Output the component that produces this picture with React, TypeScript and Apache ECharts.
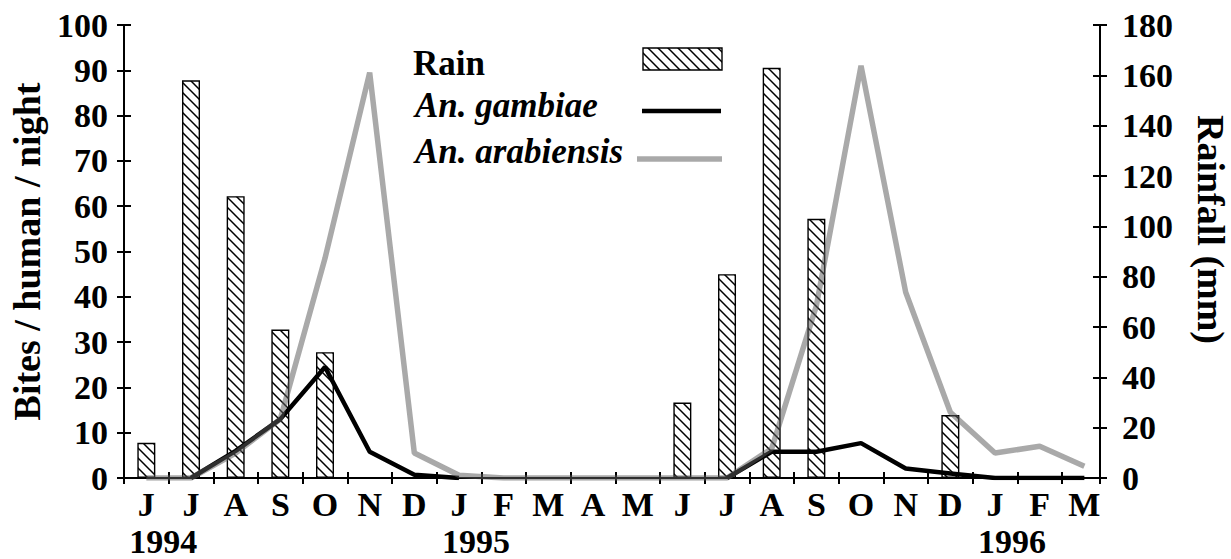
import React, { useEffect, useRef } from 'react';
import * as echarts from 'echarts';

// ---- data ----
const months = ['J', 'J', 'A', 'S', 'O', 'N', 'D', 'J', 'F', 'M', 'A', 'M', 'J', 'J', 'A', 'S', 'O', 'N', 'D', 'J', 'F', 'M'];
const yearLabels = ['1994', '1995', '1996'];
const yearMonthIndex = [0, 7, 19];
// Rainfall (mm), one value per month (null = no bar)
const rainfall = [14, 158, 112, 59, 50, null, null, null, null, null, null, null, 30, 81, 163, 103, null, null, 25, null, null, null];
// Bites / human / night
const gambiae = [null, 0, 6, 13, 24.5, 5.8, 0.7, 0, null, null, null, null, null, 0, 5.8, 5.8, 7.7, 2.1, 1, 0, 0, 0];
const arabiensis = [0, 0, 5.5, 13, 48.5, 89.5, 5.5, 0.6, 0, 0, 0, 0, 0, 0, 6.5, 38, 91, 41, 14.5, 5.5, 7, 2.6];
const legendNames = ['Rain', 'An. gambiae', 'An. arabiensis'];
const leftAxisName = 'Bites / human / night';
const rightAxisName = 'Rainfall (mm)';
const leftMax = 100;
const leftStep = 10;
const rightMax = 180;
const rightStep = 20;
const monthSpan = 21.85; // axis ends part-way through the last month

const FONT = '"Liberation Serif", "Times New Roman", serif';
const GREY = 'rgba(90,90,90,0.52)';

function makeHatch(): HTMLCanvasElement {
  const s = 10;
  const c = document.createElement('canvas');
  c.width = s;
  c.height = s;
  const ctx = c.getContext('2d')!;
  ctx.fillStyle = '#fff';
  ctx.fillRect(0, 0, s, s);
  ctx.strokeStyle = '#000';
  ctx.lineWidth = 1.5;
  ctx.beginPath();
  ctx.moveTo(-1, -1);
  ctx.lineTo(s + 1, s + 1);
  ctx.moveTo(s - 2, -2);
  ctx.lineTo(s + 2, 2);
  ctx.moveTo(-2, s - 2);
  ctx.lineTo(2, s + 2);
  ctx.stroke();
  return c;
}

export default function App() {
  const ref = useRef<HTMLDivElement>(null);

  useEffect(() => {
    if (!ref.current) return;
    const chart = echarts.init(ref.current, undefined, { renderer: 'svg' });
    const hatch = { image: makeHatch(), repeat: 'repeat' };

    const rainData = rainfall
      .map((v, i) => (v == null ? null : [i + 0.5, v]))
      .filter((d) => d !== null);
    const gamData = gambiae.map((v, i) => [i + 0.5, v == null ? '-' : v]);
    const araData = arabiensis.map((v, i) => [i + 0.5, v == null ? '-' : v]);

    const black = '#000';
    const tickStyle = { color: black, width: 2 };
    const baseX = {
      type: 'value',
      position: 'bottom',
      min: 0,
      max: monthSpan,
      splitLine: { show: false },
    };
    const baseYLeft = {
      type: 'value',
      position: 'left',
      min: 0,
      max: leftMax,
      interval: leftStep,
      splitLine: { show: false },
    };
    const baseYRight = {
      type: 'value',
      position: 'right',
      min: 0,
      max: rightMax,
      interval: rightStep,
      splitLine: { show: false },
    };
    const labelStyle = { color: black, fontWeight: 'bold', fontFamily: FONT };

    chart.setOption({
      animation: false,
      backgroundColor: '#fff',
      textStyle: { fontFamily: FONT },
      grid: { left: 124, right: 131, top: 25, bottom: 81, containLabel: false, outerBoundsMode: 'none' },
      xAxis: [
        {
          ...baseX,
          interval: 1,
          axisLine: { show: true, onZero: false, lineStyle: { color: black, width: 2 } },
          axisTick: { show: true, inside: false, length: 6, lineStyle: tickStyle },
          axisLabel: { show: false },
        },
        {
          ...baseX,
          interval: 0.5,
          axisLine: { show: false, onZero: false },
          axisTick: { show: false },
          axisLabel: {
            ...labelStyle,
            fontSize: 34,
            margin: 9,
            formatter: (value: number) => {
              const f = value - Math.floor(value);
              if (Math.abs(f - 0.5) < 0.01) return months[Math.floor(value)] ?? '';
              return '';
            },
          },
        },
        {
          ...baseX,
          interval: 1,
          axisLine: { show: false, onZero: false },
          axisTick: { show: true, inside: true, length: 6, lineStyle: tickStyle },
          axisLabel: { show: false },
        },
      ],
      yAxis: [
        {
          ...baseYLeft,
          axisLine: { show: true, onZero: false, lineStyle: { color: black, width: 2 } },
          axisTick: { show: true, inside: false, length: 7, lineStyle: tickStyle },
          axisLabel: { ...labelStyle, fontSize: 34, margin: 16 },
          name: leftAxisName,
          nameLocation: 'middle',
          nameRotate: 90,
          nameGap: 74,
          nameTextStyle: { ...labelStyle, fontSize: 38 },
        },
        {
          ...baseYRight,
          axisLine: { show: true, onZero: false, lineStyle: { color: black, width: 2 } },
          axisTick: { show: true, inside: false, length: 7, lineStyle: tickStyle },
          axisLabel: { ...labelStyle, fontSize: 34, margin: 22 },
          name: rightAxisName,
          nameLocation: 'middle',
          nameRotate: -90,
          nameGap: 92,
          nameTextStyle: { ...labelStyle, fontSize: 38, padding: [0, 44, 0, 0] },
        },
        {
          ...baseYLeft,
          axisLine: { show: false, onZero: false },
          axisTick: { show: true, inside: true, length: 7, lineStyle: tickStyle },
          axisLabel: { show: false },
        },
        {
          ...baseYRight,
          axisLine: { show: false, onZero: false },
          axisTick: { show: true, inside: true, length: 7, lineStyle: tickStyle },
          axisLabel: { show: false },
        },
      ],
      series: [
        {
          type: 'bar',
          name: legendNames[0],
          xAxisIndex: 0,
          yAxisIndex: 1,
          barWidth: 18,
          data: rainData,
          itemStyle: { color: hatch, borderColor: black, borderWidth: 1.4 },
          silent: true,
        },
        {
          type: 'line',
          name: legendNames[1],
          xAxisIndex: 0,
          yAxisIndex: 0,
          data: gamData,
          symbol: 'none',
          lineStyle: { color: black, width: 4.5 },
          itemStyle: { color: black },
          silent: true,
        },
        {
          type: 'line',
          name: legendNames[2],
          xAxisIndex: 0,
          yAxisIndex: 0,
          data: araData,
          symbol: 'none',
          lineStyle: { color: GREY, width: 5.5 },
          itemStyle: { color: GREY },
          silent: true,
        },
      ],
    });

    // legend (drawn as graphic) and year labels placed through the axis scale
    const legendFontUp = `bold 35px ${FONT}`;
    const legendFontIt = `italic bold 35px ${FONT}`;
    const graphics: any[] = [
      { type: 'text', x: 413, y: 63, style: { text: legendNames[0], font: legendFontUp, fill: black, textAlign: 'left', textVerticalAlign: 'middle' } },
      { type: 'text', x: 415, y: 105, style: { text: legendNames[1], font: legendFontIt, fill: black, textAlign: 'left', textVerticalAlign: 'middle' } },
      { type: 'text', x: 415, y: 151, style: { text: legendNames[2], font: legendFontIt, fill: black, textAlign: 'left', textVerticalAlign: 'middle' } },
      { type: 'rect', shape: { x: 643, y: 48, width: 79, height: 22 }, style: { fill: hatch, stroke: black, lineWidth: 1.4 } },
      { type: 'line', shape: { x1: 642, y1: 111, x2: 721, y2: 111 }, style: { stroke: black, lineWidth: 4.5 } },
      { type: 'line', shape: { x1: 637, y1: 159, x2: 722, y2: 159 }, style: { stroke: GREY, lineWidth: 5.5 } },
    ];
    yearLabels.forEach((label, k) => {
      const px = chart.convertToPixel({ xAxisIndex: 0 }, yearMonthIndex[k] + 0.88) as number;
      graphics.push({
        type: 'text',
        x: px,
        y: 541,
        style: { text: label, font: `bold 34px ${FONT}`, fill: black, textAlign: 'center', textVerticalAlign: 'middle' },
      });
    });
    chart.setOption({ graphic: graphics });

    return () => chart.dispose();
  }, []);

  return (
    <div
      ref={ref}
      style={{ position: 'fixed', left: 0, top: 0, width: 1231, height: 559, background: '#fff' }}
    />
  );
}
